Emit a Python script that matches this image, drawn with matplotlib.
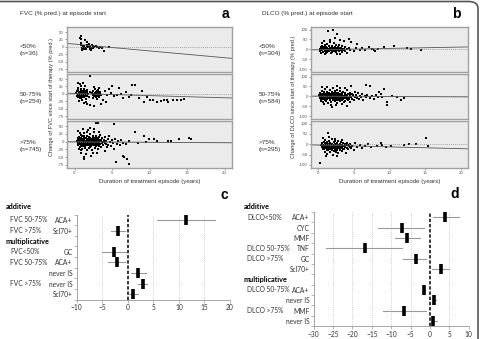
import numpy as np
import matplotlib.pyplot as plt
from matplotlib.patches import FancyBboxPatch

W, H = 482, 339

# ---- scatter data (years, change in % pred.) ----
a_top = [(0.7,30),(0.8,35),(0.9,5),(1.0,-3),(1.1,2),(1.2,-8),(1.3,0),(1.4,22),(1.5,-5),(1.6,18),
         (1.7,3),(1.8,-2),(1.9,8),(2.0,-6),(2.1,1),(2.2,-4),(2.3,5),(2.5,-3),(2.6,0),(2.8,2),
         (3.0,-2),(3.2,-4),(3.4,1),(3.6,-3),(3.9,-14),(4.6,-1),(0.8,12),(1.0,-10),(1.2,4),(1.5,-6),
         (1.9,-1),(2.4,3),(0.9,28),(1.3,-7),(1.7,6),(2.2,-9)]

a_mid = [(0.2,3),(0.3,-6),(0.4,12),(0.4,-2),(0.5,20),(0.5,-12),(0.6,5),(0.6,-4),(0.7,32),(0.7,0),
         (0.8,-9),(0.8,15),(0.9,2),(0.9,-15),(1.0,8),(1.0,-3),(1.1,38),(1.1,-7),(1.2,1),(1.2,18),
         (1.3,-11),(1.3,6),(1.4,-2),(1.4,25),(1.5,10),(1.5,-18),(1.6,3),(1.6,-6),(1.7,14),(1.8,-1),
         (1.9,-10),(2.0,5),(0.5,35),(0.8,28),(1.0,-22),(1.3,-30),(0.6,-25),(0.3,8),(0.7,-14),(1.1,11),
         (2.3,2),(2.4,-5),(2.5,9),(2.6,-1),(2.7,16),(2.8,-8),(2.9,4),(3.0,-3),(3.1,12),(3.2,-12),
         (3.3,1),(3.4,7),(3.5,-4),(2.6,22),(3.0,-18),(2.4,-15),(3.2,20),(2.8,5),(3.1,-7),
         (2.1,60),(1.7,-35),(2.0,-38),(2.6,-40),(3.5,-33),(4.0,10),(4.3,-5),(4.6,18),(5.0,25),(5.3,-8),
         (5.9,21),(6.2,-2),(6.5,-14),(7.2,-12),(7.7,29),(8.0,29),(8.6,-14),(9.0,11),(9.2,-29),(9.6,-12),
         (10.1,-21),(10.5,-21),(11.0,-26),(11.5,-23),(11.9,-22),(12.3,-20),(12.4,-29),(13.1,-20),
         (13.6,-21),(14.2,-20),(14.6,-19),(3.8,-20),(4.2,-28),(1.5,-28),(4.8,2),(5.6,-3),(6.8,5),(7.5,-4)]
a_mid_core = [(0.4,1),(0.5,-4),(0.6,6),(0.7,-7),(0.8,3),(0.9,-1),(1.0,4),(1.1,-4),(1.2,7),(1.3,-2),
              (1.4,2),(1.5,-8),(1.6,9),(1.7,-3),(0.5,10),(0.7,-10),(0.9,9),(1.1,-12),(1.3,12),(1.5,0),
              (0.6,-1),(0.8,-4),(1.0,-7),(1.2,-5),(1.4,10),(1.6,-2),(2.5,1),(2.6,-6),(2.7,4),(2.9,-2),
              (3.0,8),(3.2,-4),(3.3,5),(2.8,-12),(3.1,3),(3.4,-1)]

a_bot = [(0.3,2),(0.4,-5),(0.5,8),(0.5,-12),(0.6,15),(0.6,-2),(0.7,4),(0.7,-18),(0.8,22),(0.8,-8),
         (0.9,1),(0.9,11),(1.0,-4),(1.0,18),(1.0,-22),(1.1,6),(1.1,-13),(1.2,-1),(1.2,27),(1.3,9),
         (1.3,-7),(1.4,-16),(1.4,3),(1.5,13),(1.5,-3),(1.6,-26),(1.6,7),(1.7,-10),(1.7,20),(1.8,0),
         (1.8,-5),(1.9,15),(1.9,-19),(2.0,5),(2.0,-9),(2.1,24),(2.1,-2),(2.2,-14),(2.2,10),(2.3,2),
         (2.3,-28),(2.4,-6),(2.4,17),(2.5,8),(2.5,-12),(2.6,-1),(2.6,30),(2.7,12),(2.7,-20),(2.8,4),
         (2.8,-8),(2.9,-15),(2.9,19),(3.0,1),(3.0,-4),(3.1,9),(3.1,-24),(3.2,-10),(3.2,14),(3.3,3),
         (3.4,-6),(3.4,22),(3.5,-17),(3.5,6),(0.4,12),(0.6,-25),(0.8,-15),(1.0,8),(1.2,14),(1.4,-20),
         (1.6,-1),(1.8,10),(2.0,-18),(2.2,3),(2.4,-3),(2.6,-9),(2.8,16),(3.0,11),(3.2,-1),(0.5,-8),
         (0.7,-1),(0.9,-28),(1.1,2),(1.3,20),(1.5,-10),(1.7,5),(1.9,-3),(2.1,12),(2.3,-7),(2.5,1),
         (2.7,-4),(2.9,7),(3.1,-6),(3.3,-13),
         (3.6,-2),(3.7,11),(3.8,-12),(3.9,4),(4.0,-30),(4.0,15),(4.1,-5),(4.2,2),(4.3,-18),(4.4,8),
         (4.5,-9),(4.6,20),(4.7,0),(4.8,-14),(5.0,5),(5.1,-3),(5.3,-22),(5.4,10),(5.6,-6),(5.8,2),
         (6.0,-12),(6.2,4),(6.5,-3),(6.8,-8),(7.2,1),
         (0.5,35),(0.9,-35),(1.1,40),(1.5,-40),(1.8,38),(2.2,-45),(2.6,42),(3.0,-38),(1.3,-50),
         (1.2,-55),(2.0,45),(3.3,33),(2.4,-36),(0.7,28),(1.6,32),
         (2.8,60),(3.1,60),(5.25,58),(8.1,31),(9.2,20),(9.9,9),(10.6,9),(12.4,3),(12.8,3),(13.9,9),
         (15.3,12),(15.5,9),(5.5,-67),(7.0,-55),(7.2,-73),(6.4,-45),(6.6,-48),(8.5,-5),(9.5,-2),(11.0,1)]
a_bot_core = [(0.4,1),(0.5,4),(0.6,-6),(0.7,9),(0.8,-3),(0.9,5),(1.0,-9),(1.1,0),(1.2,6),(1.3,-4),
              (1.4,11),(1.5,2),(1.6,-7),(1.7,1),(1.8,-11),(1.9,4),(2.0,-1),(2.1,7),(2.2,-6),(2.3,9),
              (2.4,1),(2.5,-4),(2.6,5),(2.7,-1),(2.8,-11),(2.9,2),(3.0,6),(3.1,-2),(3.2,5),(3.3,-8),
              (0.5,-1),(0.7,-6),(0.9,-10),(1.1,9),(1.3,3),(1.5,-6),(1.7,-3),(1.9,9),(2.1,-8),(2.3,-3),
              (2.5,11),(2.7,7),(2.9,-6),(3.1,1),(3.4,2),(0.6,3),(1.0,1),(1.4,-2),(1.8,6),(2.2,-1),
              (2.6,-3),(3.0,-9),(1.2,-10),(2.0,10),(2.8,0),(3.6,-5),(3.9,-1),(4.2,-7)]

b_top = [(0.2,0),(0.3,-8),(0.4,10),(0.5,-3),(0.5,18),(0.6,4),(0.7,-14),(0.7,7),(0.8,-1),(0.9,22),
         (0.9,-9),(1.0,3),(1.1,-18),(1.1,12),(1.2,-4),(1.3,6),(1.3,28),(1.4,-11),(1.5,1),(1.5,15),
         (1.6,-6),(1.7,9),(1.8,-20),(1.8,2),(1.9,-2),(2.0,19),(2.0,-12),(2.1,5),(2.2,-7),(2.3,11),
         (2.4,0),(2.5,-16),(2.5,24),(2.6,6),(2.7,-4),(2.8,14),(2.9,-10),(3.0,2),(3.1,-2),(3.2,9),
         (3.3,-14),(3.4,18),(3.5,-5),(3.6,4),(3.7,-9),(3.8,12),(4.0,-1),(4.1,-17),(4.3,7),(4.5,-4),
         (0.6,30),(1.0,-25),(2.2,33),(3.0,-22),(0.4,-20),(1.6,36),(2.6,-26),(0.8,14),(1.2,-12),
         (1.9,8),(2.4,-6),(2.9,20),(3.3,3),
         (1.4,91),(2.1,97),(2.7,75),(1.7,46),(3.1,49),(4.3,54),(5.5,29),(4.6,37),(5.0,-10),(5.3,5),
         (5.8,-2),(6.2,8),(6.6,-6),(7.1,12),(7.8,-5),(7.5,3),(8.4,0),(9.2,12),(10.7,15),(12.5,8),
         (13.0,4),(14.4,-2),(8.0,-10),(0.8,42),(2.4,55),(3.6,40)]
b_top_core = [(0.4,2),(0.6,-5),(0.8,6),(1.0,-2),(1.2,3),(1.4,-6),(1.6,1),(1.8,8),(2.0,-4),(2.2,2),
              (2.4,-9),(2.6,-1),(2.8,4),(3.0,-6),(3.2,-1),(0.5,7),(0.7,-1),(0.9,-5),(1.1,4),(1.3,-3),
              (1.5,-9),(1.7,-2),(1.9,5),(2.1,-8),(2.3,-2),(2.7,9),(3.1,5),(3.4,-8)]

b_mid = [(0.1,5),(0.2,-10),(0.3,18),(0.3,-3),(0.4,8),(0.4,-22),(0.5,27),(0.5,0),(0.6,-12),(0.6,13),
         (0.7,-30),(0.7,4),(0.8,21),(0.8,-6),(0.9,-17),(0.9,9),(1.0,1),(1.0,35),(1.1,-25),(1.1,14),
         (1.2,-4),(1.2,6),(1.3,24),(1.3,-14),(1.4,2),(1.4,-36),(1.5,17),(1.5,-8),(1.6,30),(1.6,-1),
         (1.7,-20),(1.7,10),(1.8,3),(1.8,-28),(1.9,22),(1.9,-11),(2.0,7),(2.0,-3),(2.1,40),(2.1,-18),
         (2.2,12),(2.2,-7),(2.3,0),(2.3,26),(2.4,-24),(2.4,5),(2.5,15),(2.5,-13),(2.6,-2),(2.6,33),
         (2.7,8),(2.7,-32),(2.8,19),(2.8,-9),(2.9,2),(2.9,-19),(3.0,11),(3.0,-5),(3.1,28),(3.1,-26),
         (3.2,4),(3.2,-12),(3.3,16),(3.3,-2),(3.4,-38),(3.4,9),(3.5,23),(3.5,-15),(3.6,1),(3.7,-7),
         (3.7,13),(3.8,-22),(3.9,6),(4.0,-3),(4.0,30),(4.1,-16),(4.2,10),(4.3,-8),(4.4,19),(4.5,-27),
         (4.5,2),(4.6,-4),(4.7,14),(4.8,-12),(4.9,5),(5.0,-20),(5.1,22),(5.2,-2),(5.3,8),(5.4,-9),
         (5.6,15),(5.7,-14),(5.8,3),(6.0,-6),(6.1,11),(6.3,-18),(6.5,4),(6.7,-3),(6.9,9),(7.2,-8),
         (7.5,2),(7.8,-12),(8.1,6),(8.4,-2),(8.8,10),(9.0,-5),
         (0.5,45),(1.2,48),(1.8,-42),(2.5,-45),(3.0,44),(0.8,-40),(3.8,40),(0.4,-15),(1.0,-9),
         (1.5,5),(2.0,16),(2.6,-20),(3.1,-1),(3.6,-30),(4.2,-20),
         (2.7,52),(4.6,52),(6.7,56),(7.2,50),(9.2,39),(9.7,-29),(11.1,-3),(12.1,-8),(9.6,-42),
         (11.6,-20),(2.0,-52),(4.0,-48),(10.3,2),(8.5,20)]
b_mid_core = [(0.3,3),(0.5,-8),(0.6,6),(0.8,-15),(0.9,14),(1.0,-5),(1.2,11),(1.3,-9),(1.4,16),(1.5,-2),
              (1.6,8),(1.7,-13),(1.8,12),(1.9,1),(2.0,-10),(2.1,4),(2.2,-16),(2.3,9),(2.4,-3),(2.5,3),
              (2.6,10),(2.7,-6),(2.8,1),(2.9,12),(3.0,-12),(3.1,6),(3.2,-4),(3.3,9),(3.4,-1),(3.5,3),
              (3.6,-10),(3.8,7),(3.9,-5),(4.1,2),(4.3,-14),(4.4,6),(0.4,-1),(0.7,10),(1.1,-12),(1.3,2),
              (1.7,-4),(2.0,15),(2.5,-8),(2.9,-2),(3.3,-18),(3.7,17),(1.0,-20),(2.2,18)]

b_bot = [(0.4,-5),(0.5,8),(0.6,-15),(0.6,3),(0.7,-25),(0.8,12),(0.8,-8),(0.9,-2),(0.9,-35),(1.0,20),
         (1.0,-12),(1.1,5),(1.1,-20),(1.2,-4),(1.2,-45),(1.3,10),(1.3,-10),(1.4,-28),(1.4,1),(1.5,-16),
         (1.5,15),(1.6,-6),(1.6,-38),(1.7,6),(1.7,-22),(1.8,-1),(1.8,-12),(1.9,25),(1.9,-30),(2.0,-8),
         (2.0,3),(2.1,-18),(2.1,-50),(2.2,9),(2.2,-5),(2.3,-26),(2.4,-12),(2.4,14),(2.5,-2),(2.5,-35),
         (2.6,4),(2.6,-20),(2.7,-8),(2.8,18),(2.8,-42),(2.9,-14),(3.0,1),(3.0,-28),(3.1,-6),(3.2,10),
         (3.2,-18),(3.3,-2),(3.4,-32),(3.5,6),(3.5,-10),(3.6,-22),(3.7,2),(3.8,-14),(3.9,-40),(4.0,-5),
         (4.1,8),(4.2,-25),(4.3,-10),(4.5,0),(4.6,-18),(4.8,-6),(5.0,-30),(5.2,4),(5.5,-12),(5.8,-3),
         (6.1,-20),(6.5,-8),(7.0,2),(7.4,-15),(0.7,30),(1.5,34),(2.3,28),(3.3,22),(1.1,-55),(2.6,-58),
         (0.7,-10),(1.0,0),(1.3,-20),(1.6,8),(1.9,-15),(2.2,-32),(2.5,-15),(2.8,-2),(3.1,-12),(3.4,-20),
         (0.3,-92),(1.4,53),(15.1,30),(15.4,-8),(10.2,-8),(12.8,0),(13.7,3),(12.0,-4),(9.0,-2),
         (8.2,-10),(8.8,5),(9.5,-15)]
b_bot_core = [(0.5,-12),(0.6,-3),(0.7,-18),(0.8,-1),(0.9,-14),(1.0,-7),(1.1,-10),(1.2,2),(1.3,-16),
              (1.4,-8),(1.5,-4),(1.6,-13),(1.7,-1),(1.8,-20),(1.9,-9),(2.0,-15),(2.1,-4),(2.2,-11),
              (2.3,1),(2.4,-22),(2.5,-7),(2.6,-12),(2.7,0),(2.8,-17),(2.9,-6),(3.0,-10),(3.1,-19),
              (3.2,-3),(3.3,-13),(3.5,-22),(3.6,-6),(3.8,-2),(4.0,-16),(4.2,-3),(4.4,-11),(0.8,-24),
              (1.2,-26),(2.0,-28),(2.7,-28)]

# regression line end points (x = -1 and x = 21)
reg_x = [-1, 21]
a_reg = [[11.5, -39], [2, -14], [0, -3.5]]
b_reg = [[-3, 12], [1, -3], [-3, -22]]

a_groups = ['<50%\n(n=36)', '50-75%\n(n=254)', '>75%\n(n=745)']
b_groups = ['<50%\n(n=304)', '50-75%\n(n=584)', '>75%\n(n=295)']

# ---- forest plot data ----
c_rows = ['ACA+', 'Scl70+', '', 'GC', 'ACA+', 'never IS', 'never IS', 'Scl70+']
c_est = [11.3, -1.9, np.nan, -2.7, -2.2, 2.0, 2.9, 1.0]
c_lo = [5.7, -3.2, np.nan, -5.1, -3.8, 0.6, 1.9, 0.3]
c_hi = [17.0, -0.6, np.nan, -0.4, -0.6, 3.5, 3.8, 1.9]
c_groups = {0: 'FVC 50-75%', 1: 'FVC >75%', 3: 'FVC<50%', 4: 'FVC 50-75%', 6: 'FVC >75%'}

d_rows = ['ACA+', 'CYC', 'MMF', 'TNF', 'GC', 'Scl70+', '', 'ACA+', 'never IS', 'MMF', 'never IS']
d_est = [4.0, -7.3, -5.8, -16.8, -3.7, 2.8, np.nan, -1.6, 1.1, -6.6, 0.9]
d_lo = [0.7, -13.5, -9.1, -26.7, -6.9, 0.5, np.nan, -1.9, 0.8, -12.2, 0.4]
d_hi = [7.6, -1.6, -2.6, -7.3, -0.9, 5.0, np.nan, -1.2, 1.5, -0.9, 1.7]
d_groups = {0: 'DLCO<50%', 3: 'DLCO 50-75%', 4: 'DLCO >75%', 7: 'DLCO 50-75%', 9: 'DLCO >75%'}

plt.rcParams['font.family'] = ['Liberation Sans', 'DejaVu Sans']
fig = plt.figure(figsize=(W / 100, H / 100), dpi=100)


def px_axes(x0, y0, x1, y1):
    return fig.add_axes([x0 / W, 1 - y1 / H, (x1 - x0) / W, (y1 - y0) / H])


def ftext(x, y, s, **kw):
    fig.text(x / W, 1 - y / H, s, **kw)


# border
fig.patches.append(FancyBboxPatch((-20 / W, -20 / H), (498 / W), (357.5 / H),
                                  boxstyle='round,pad=0,rounding_size=0.02',
                                  transform=fig.transFigure, fill=False,
                                  ec='#555555', lw=1.2))


def scatter_block(x0, x1, rows, data, regs, ylim, yticks, groups, lab_x, ylab, ylab_x):
    for i, ((ya, yb), pts, reg, grp) in enumerate(zip(rows, data, regs, groups)):
        ax = px_axes(x0, ya, x1, yb)
        ax.set_facecolor('#ebebeb')
        pts = np.array(pts)
        ax.scatter(pts[:, 0], pts[:, 1], s=3.4, c='black', lw=0, marker='s')
        ax.axhline(0, color='#888888', ls=(0, (1, 1.5)), lw=0.6)
        ax.plot(reg_x, reg, color='#555555', lw=0.6)
        ax.set_xlim(-1, 21)
        ax.set_ylim(*ylim)
        ax.set_yticks(yticks)
        ax.set_yticklabels([str(t) for t in yticks])
        ax.set_xticks([0, 5, 10, 15, 20])
        for s in ax.spines.values():
            s.set_color('#a0a0a0')
            s.set_linewidth(1.0)
        ax.tick_params(length=1.5, width=0.4, colors='#555555', labelsize=3.2, pad=0.8)
        if i < 2:
            ax.tick_params(axis='x', bottom=False, labelbottom=False)
        ftext(lab_x, (ya + yb) / 2 + 1, grp, fontsize=4.6, color='#333333',
              va='center', ha='left', linespacing=1.5)
    ftext((x0 + x1) / 2, 182, 'Duration of treatment episode (years)', fontsize=4.4,
          color='#333333', ha='center', va='center')
    ftext(ylab_x, 97, ylab, fontsize=4.1, color='#333333', rotation=90,
          ha='center', va='center')


scatter_block(67, 232, [(27, 72), (74, 119), (121, 168)],
              [a_top, a_mid + a_mid_core, a_bot + a_bot_core], a_reg,
              (-85, 67), [50, 25, 0, -25, -50, -75], a_groups, 20,
              'Change of FVC since start of therapy (% pred.)', 52)
scatter_block(311, 468, [(27, 72), (74, 119), (121, 168)],
              [b_top + b_top_core, b_mid + b_mid_core, b_bot + b_bot_core], b_reg,
              (-115, 113), [100, 50, 0, -50, -100], b_groups, 259,
              'Change of DLCO since start of therapy (% pred.)', 294)

ftext(20, 14, 'FVC (% pred.) at episode start', fontsize=4.6, color='#333333', va='center')
ftext(262, 14, 'DLCO (% pred.) at episode start', fontsize=4.6, color='#333333', va='center')
for s, x, y in [('a', 225, 14), ('b', 456, 14), ('c', 224, 195), ('d', 455, 194)]:
    ftext(x, y, s, fontsize=10, fontweight='bold', ha='center', va='center')


def forest(x0, x1, y0, y1, rows, est, lo, hi, xlim, groups, grp_x, head_rows, head_x, add_y):
    ax = px_axes(x0, y0, x1, y1)
    n = len(rows)
    y = np.arange(n)
    for xv in range(xlim[0], xlim[1] + 1, 5):
        if xv != 0:
            ax.axvline(xv, color='#c0c0c0', ls=(0, (1, 1.5)), lw=0.6, zorder=0)
    ax.axvline(0, color='black', ls=(0, (2.2, 1.2)), lw=1.1, zorder=1)
    for yi, l, h in zip(y, lo, hi):
        if not np.isnan(l):
            ax.plot([l, h], [yi, yi], color='#9a9a9a', lw=0.8, zorder=2, clip_on=False)
    ax.plot(est, y, ls='none', marker='|', ms=7.5, mew=2.6, color='black', zorder=3)
    ax.set_xlim(*xlim)
    ax.set_ylim(n - 0.5, -0.5)
    ax.set_xticks(range(xlim[0], xlim[1] + 1, 5))
    ax.set_yticks(y)
    ax.set_yticklabels(rows, fontfamily='Lato', fontsize=4.8, color='#333333')
    ax.set_yticks(np.arange(n + 1) - 0.5, minor=True)
    ax.tick_params(axis='y', which='major', length=0, pad=3)
    ax.tick_params(axis='y', which='minor', length=2, width=0.5, color='#999999')
    ax.tick_params(axis='x', length=2, width=0.5, color='#999999', labelsize=4.8,
                   labelcolor='#333333', pad=1.5)
    for lab in ax.get_xticklabels():
        lab.set_fontfamily('Lato')
    for s in ['top', 'right']:
        ax.spines[s].set_visible(False)
    for s in ['left', 'bottom']:
        ax.spines[s].set_color('#999999')
        ax.spines[s].set_linewidth(0.6)
    row_h = (y1 - y0) / n
    for r, g in groups.items():
        ftext(grp_x, y0 + (r + 0.5) * row_h, g, fontsize=4.8, family='Lato',
              color='#333333', va='center')
    for r in head_rows:
        ftext(head_x, y0 + (r + 0.5) * row_h, 'multiplicative', fontsize=5.2, family='Lato',
              fontweight='bold', va='center')
    ftext(head_x, add_y, 'additive', fontsize=5.2, family='Lato', fontweight='bold', va='center')


forest(76.7, 230, 214.7, 299.5, c_rows, c_est, c_lo, c_hi, (-10, 20), c_groups, 10, [2], 6, 207)
forest(313.7, 468.7, 212.1, 326.2, d_rows, d_est, d_lo, d_hi, (-30, 10), d_groups, 247, [6], 244, 207)

fig.savefig('out.png', dpi=100)
